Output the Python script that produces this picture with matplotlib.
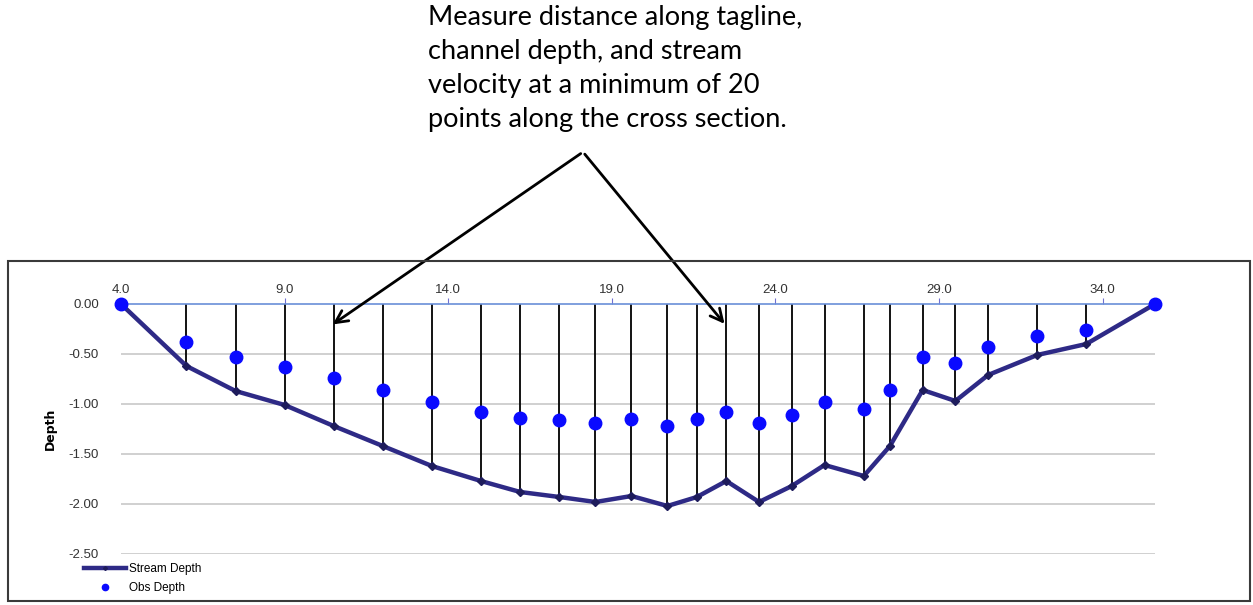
import matplotlib.pyplot as plt
from matplotlib.patches import Rectangle

# Stationen entlang der Tagline und Tiefen
station = [4.0, 6.0, 7.5, 9.0, 10.5, 12.0, 13.5, 15.0, 16.2, 17.4, 18.5, 19.6,
           20.7, 21.6, 22.5, 23.5, 24.5, 25.5, 26.7, 27.5, 28.5, 29.5, 30.5,
           32.0, 33.5, 35.6]
stream_depth = [0.0, -0.62, -0.87, -1.01, -1.22, -1.42, -1.62, -1.77, -1.88,
                -1.93, -1.98, -1.92, -2.02, -1.93, -1.77, -1.98, -1.82, -1.61,
                -1.72, -1.42, -0.86, -0.97, -0.71, -0.51, -0.40, 0.0]
obs_depth = [0.0, -0.38, -0.53, -0.63, -0.74, -0.86, -0.98, -1.08, -1.14,
             -1.16, -1.19, -1.15, -1.22, -1.15, -1.08, -1.19, -1.11, -0.98,
             -1.05, -0.86, -0.53, -0.59, -0.43, -0.32, -0.26, 0.0]
x_ticks = [4.0, 9.0, 14.0, 19.0, 24.0, 29.0, 34.0]
y_ticks = [0.0, -0.5, -1.0, -1.5, -2.0, -2.5]
note = ("Measure distance along tagline,\nchannel depth, and stream\n"
        "velocity at a minimum of 20\npoints along the cross section.")

fig = plt.figure(figsize=(12.53, 6.05), dpi=100)
ax = fig.add_axes([121 / 1253, 1 - 554 / 605, 1034 / 1253, 250 / 605])

# Rahmen um das Diagramm
fig.patches.append(Rectangle((8 / 1253, 1 - 601 / 605), 1242 / 1253, 340 / 605,
                             transform=fig.transFigure, fill=False,
                             edgecolor="#3a3a3a", lw=1.5, zorder=0))

for y in y_ticks[1:]:
    ax.axhline(y, color="#c8c8c8", lw=1.2, zorder=1)

# Lotlinien von der Oberfläche bis zur Sohle
ax.vlines(station[1:-1], stream_depth[1:-1], 0, color="black", lw=1.3, zorder=2)

ax.plot(station, stream_depth, color="#2e2a86", lw=3.2, marker="D",
        markersize=4, markerfacecolor="#1e1c5c", markeredgecolor="#1e1c5c",
        label="Stream Depth", zorder=3, clip_on=False)
ax.plot(station, obs_depth, ls="none", marker="o", markersize=9,
        color="#0a0aff", label="Obs Depth", zorder=4, clip_on=False)

ax.set_xlim(4.0, 35.6)
ax.set_ylim(-2.5, 0.0)
ax.set_xticks(x_ticks)
ax.set_xticklabels([f"{v:.1f}" for v in x_ticks])
ax.set_yticks(y_ticks)
ax.set_yticklabels([f"{v:.2f}" for v in y_ticks])
ax.xaxis.tick_top()
ax.tick_params(axis="x", direction="out", length=4, color="#7070d0",
               labelsize=9.5, labelcolor="#333333", pad=2)
ax.tick_params(axis="y", length=0, labelsize=9.5, labelcolor="#333333", pad=16)
for s in ["left", "right", "bottom"]:
    ax.spines[s].set_visible(False)
ax.spines["top"].set_color("#6a8fd8")
ax.spines["top"].set_linewidth(1.2)
ax.set_ylabel("Depth", fontsize=9, fontweight="bold", labelpad=8)
ax.patch.set_alpha(0)

for name in ax.get_xticklabels() + ax.get_yticklabels():
    name.set_family("Liberation Sans")

fig.legend(loc="upper left", bbox_to_anchor=(78 / 1253, 1 - 557 / 605),
           frameon=False, handlelength=3.6, labelspacing=0.6,
           borderpad=0, handletextpad=0.2, markerscale=0.5,
           prop={"family": "Liberation Sans", "size": 8.5})

# Hinweistext mit Pfeilen
fig.text(428 / 1253, 1 - 5 / 605, note, ha="left", va="top", fontsize=19.5,
         family="Lato", linespacing=1.45)
apex = (583 / 1253, 1 - 152 / 605)
for target in [(10.4, -0.22), (22.5, -0.22)]:
    ax.annotate("", xy=target, xycoords="data", xytext=apex,
                textcoords="figure fraction",
                arrowprops=dict(arrowstyle="->", color="black", lw=2,
                                mutation_scale=22), zorder=6)

fig.savefig("out.png", dpi=100)
